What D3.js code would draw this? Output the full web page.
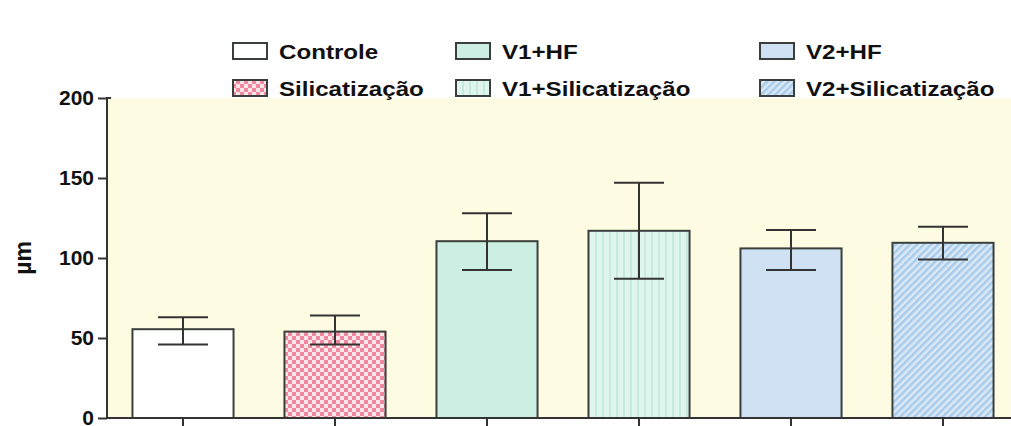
<!DOCTYPE html>
<html>
<head>
<meta charset="utf-8">
<script src="https://cdn.jsdelivr.net/npm/d3@7"></script>
<style>
  body { margin: 0; background: #fff; }
  text { font-family: Arial, "Liberation Sans", sans-serif; font-weight: bold; fill: #111; }
</style>
</head>
<body>
<div id="container"></div>
<script>
// Data
var groups = ["Controle", "Silicatização", "V1+HF", "V1+Silicatização", "V2+HF", "V2+Silicatização"];
var means = [55.5, 54, 110.5, 117, 106, 109.5];
var errTop = [63, 64, 128, 147, 117.5, 119.5];
var errBottom = [46, 46, 92.5, 87, 92.5, 99];
var yTicks = [0, 50, 100, 150, 200];

var fills = ["#ffffff", "url(#checker)", "#cdeee3", "url(#vstripes)", "#cfe1f3", "url(#diag)"];

var width = 1011,
    height = 426;

var svg = d3.select("#container")
            .append("svg")
              .attr("width", width)
              .attr("height", height);

// Patterns
var defs = svg.append("defs");

var checker = defs.append("pattern")
    .attr("id", "checker")
    .attr("width", 8).attr("height", 8)
    .attr("patternUnits", "userSpaceOnUse");
checker.append("rect").attr("width", 8).attr("height", 8).attr("fill", "#f2889f");
checker.append("rect").attr("width", 4).attr("height", 4).attr("fill", "#fbe6ea");
checker.append("rect").attr("x", 4).attr("y", 4).attr("width", 4).attr("height", 4).attr("fill", "#fbe6ea");

var vstripes = defs.append("pattern")
    .attr("id", "vstripes")
    .attr("width", 7).attr("height", 7)
    .attr("patternUnits", "userSpaceOnUse");
vstripes.append("rect").attr("width", 7).attr("height", 7).attr("fill", "#e0f5ee");
vstripes.append("rect").attr("width", 2).attr("height", 7).attr("fill", "#c6eade");

var diag = defs.append("pattern")
    .attr("id", "diag")
    .attr("width", 5).attr("height", 5)
    .attr("patternUnits", "userSpaceOnUse")
    .attr("patternTransform", "rotate(45)");
diag.append("rect").attr("width", 5).attr("height", 5).attr("fill", "#dbe9f6");
diag.append("rect").attr("width", 2.5).attr("height", 5).attr("fill", "#a9cbeb");

// Scales
var x = d3.scaleBand()
          .domain(groups)
          .range([107, 1019])
          .paddingInner(0.335)
          .paddingOuter(0.1675);

var y = d3.scaleLinear()
          .domain([0, 200])
          .range([418, 98]);

// Plot background
svg.append("rect")
    .attr("x", 108)
    .attr("y", y(200))
    .attr("width", width - 108)
    .attr("height", y(0) - y(200))
    .attr("fill", "#fdfbe2");

// Bars
svg.selectAll(".bar")
    .data(groups)
    .enter()
    .append("rect")
      .attr("class", "bar")
      .attr("x", function(d) { return x(d); })
      .attr("y", function(d, i) { return y(means[i]); })
      .attr("width", x.bandwidth())
      .attr("height", function(d, i) { return y(0) - y(means[i]); })
      .attr("fill", function(d, i) { return fills[i]; })
      .attr("stroke", "#3a3f3c")
      .attr("stroke-width", 2);

// Error bars
var capW = 50;
var err = svg.selectAll(".err")
    .data(groups)
    .enter()
    .append("g")
      .attr("class", "err")
      .attr("stroke", "#333")
      .attr("stroke-width", 2);

err.append("line")
    .attr("x1", function(d) { return x(d) + x.bandwidth() / 2; })
    .attr("x2", function(d) { return x(d) + x.bandwidth() / 2; })
    .attr("y1", function(d, i) { return y(errTop[i]); })
    .attr("y2", function(d, i) { return y(errBottom[i]); });

err.append("line")
    .attr("x1", function(d) { return x(d) + x.bandwidth() / 2 - capW / 2; })
    .attr("x2", function(d) { return x(d) + x.bandwidth() / 2 + capW / 2; })
    .attr("y1", function(d, i) { return y(errTop[i]); })
    .attr("y2", function(d, i) { return y(errTop[i]); });

err.append("line")
    .attr("x1", function(d) { return x(d) + x.bandwidth() / 2 - capW / 2; })
    .attr("x2", function(d) { return x(d) + x.bandwidth() / 2 + capW / 2; })
    .attr("y1", function(d, i) { return y(errBottom[i]); })
    .attr("y2", function(d, i) { return y(errBottom[i]); });

// Y axis
var yAxis = svg.append("g")
    .attr("transform", "translate(107,0)")
    .call(d3.axisLeft(y).tickValues(yTicks).tickSize(9).tickPadding(4).tickSizeOuter(0));
yAxis.select(".domain").attr("stroke", "#333").attr("stroke-width", 2)
    .attr("d", "M4," + y(200) + "H0V" + y(0));
yAxis.selectAll(".tick line").attr("stroke", "#333").attr("stroke-width", 2);
yAxis.selectAll(".tick text")
    .style("font-size", "21px")
    .style("font-weight", "bold")
    .attr("fill", "#111");

// X axis
var xAxis = svg.append("g")
    .attr("transform", "translate(0," + y(0) + ")")
    .call(d3.axisBottom(x).tickSize(8).tickSizeOuter(0).tickFormat(""));
xAxis.select(".domain").attr("stroke", "#333").attr("stroke-width", 2)
    .attr("d", "M106,0H" + width);
xAxis.selectAll(".tick line").attr("stroke", "#333").attr("stroke-width", 2);

// Y label
svg.append("text")
    .attr("transform", "translate(31," + y(100) + ") rotate(-90)")
    .attr("text-anchor", "middle")
    .style("font-size", "23px")
    .text("µm");

// Legend
var legX = [232, 455, 759];
var legY = [51, 88];
var legend = svg.selectAll(".legend")
    .data(groups)
    .enter()
    .append("g")
      .attr("class", "legend")
      .attr("transform", function(d, i) {
        return "translate(" + legX[Math.floor(i / 2)] + "," + legY[i % 2] + ")";
      });

legend.append("rect")
    .attr("x", 1)
    .attr("y", -8)
    .attr("width", 34)
    .attr("height", 16)
    .attr("fill", function(d, i) { return fills[i]; })
    .attr("stroke", "#3a3f3c")
    .attr("stroke-width", 2);

legend.append("text")
    .attr("transform", "translate(47,8) scale(1.15,1)")
    .style("font-size", "21px")
    .text(function(d) { return d; });
</script>
</body>
</html>
